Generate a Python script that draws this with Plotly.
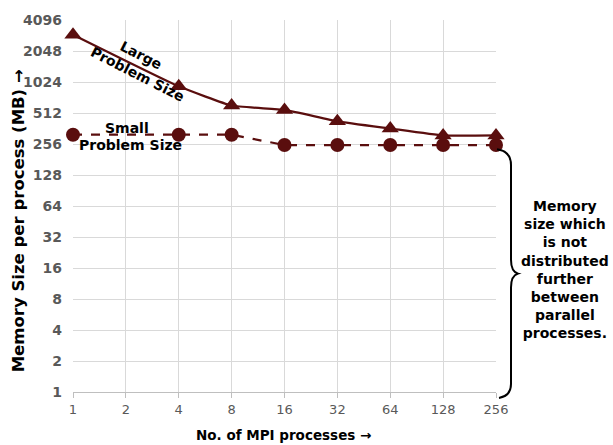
import math
import plotly.graph_objects as go

# Data
procs = [1, 4, 8, 16, 32, 64, 128, 256]
large_mb = [2950, 930, 605, 548, 425, 362, 310, 310]
small_mb = [315, 315, 315, 250, 250, 250, 250, 250]
x_ticks = [1, 2, 4, 8, 16, 32, 64, 128, 256]
y_ticks = [1, 2, 4, 8, 16, 32, 64, 128, 256, 512, 1024, 2048, 4096]

COL = "#5a0e0e"
FONT = "Verdana, DejaVu Sans, sans-serif"

fig = go.Figure()
fig.add_trace(go.Scatter(
    x=procs, y=small_mb, mode="lines+markers",
    line=dict(color=COL, width=2.2, dash="dash"),
    marker=dict(symbol="circle", size=14, color=COL),
    cliponaxis=False, showlegend=False))
fig.add_trace(go.Scatter(
    x=procs, y=large_mb, mode="lines+markers",
    line=dict(color=COL, width=2.2, shape="spline", smoothing=0.4),
    marker=dict(symbol="triangle-up", size=15, color=COL),
    cliponaxis=False, showlegend=False))

L, R, T, B = 73, 117, 15, 53
W, H = 613, 445
pw, ph = W - L - R, H - T - B

def px(xp):
    return (xp - L) / pw

def py(yp):
    return (H - B - yp) / ph

# Brace path in paper coordinates
pts = dict(
    x0=px(497), y0=py(146),
    c1x=px(511), c1y=py(148),
    x1=px(511), y1=py(162),
    x2=px(511), y2=py(258),
    c2x=px(511), c2y=py(270),
    x3=px(518), y3=py(272),
    c3x=px(511), c3y=py(274),
    x4=px(511), y4=py(286),
    x5=px(511), y5=py(384),
    c4x=px(511), c4y=py(396),
    x6=px(499), y6=py(398),
)
path = ("M {x0},{y0} Q {c1x},{c1y} {x1},{y1} L {x2},{y2} Q {c2x},{c2y} {x3},{y3} "
        "Q {c3x},{c3y} {x4},{y4} L {x5},{y5} Q {c4x},{c4y} {x6},{y6}").format(**pts)
fig.add_shape(type="path", path=path, xref="paper", yref="paper",
              line=dict(color="black", width=2))

def note(text, xp, yp, size=14, angle=0):
    fig.add_annotation(text=text, x=px(xp), y=py(yp), xref="paper", yref="paper",
                       xanchor="center", yanchor="middle", showarrow=False,
                       textangle=angle, align="center",
                       font=dict(family=FONT, size=size, color="black", weight="bold"))

note("Large", 141, 50, angle=27)
note("Problem Size", 137, 70, angle=27)
note("Small", 127, 124)
note("Problem Size", 130, 142)
note("Memory<br>size which<br>is not<br>distributed<br>further<br>between<br>parallel<br>processes.",
     565, 268, size=14)
note("Memory Size per process (MB) →", 18, 219, size=16.5, angle=-90)
note("No. of MPI processes →", 283, 436, size=13.5)

fig.update_xaxes(type="log", range=[0, math.log10(256)], tickvals=x_ticks,
                 ticktext=[str(v) for v in x_ticks],
                 showgrid=True, gridcolor="#d9d9d9", gridwidth=1,
                 showline=True, linecolor="#bfbfbf", linewidth=1,
                 ticks="outside", ticklen=5, tickcolor="#bfbfbf",
                 tickfont=dict(family=FONT, size=13, color="#595959"),
                 zeroline=False)
fig.update_yaxes(type="log", range=[0, math.log10(4096)], tickvals=y_ticks,
                 ticktext=[str(v) for v in y_ticks],
                 showgrid=True, gridcolor="#d9d9d9", gridwidth=1,
                 showline=False, ticks="", ticklabelstandoff=10,
                 tickfont=dict(family=FONT, size=14, color="#595959", weight="bold"),
                 zeroline=False)
fig.update_layout(width=W, height=H, margin=dict(l=L, r=R, t=T, b=B),
                  plot_bgcolor="white", paper_bgcolor="white")
fig.write_html("out.html")
